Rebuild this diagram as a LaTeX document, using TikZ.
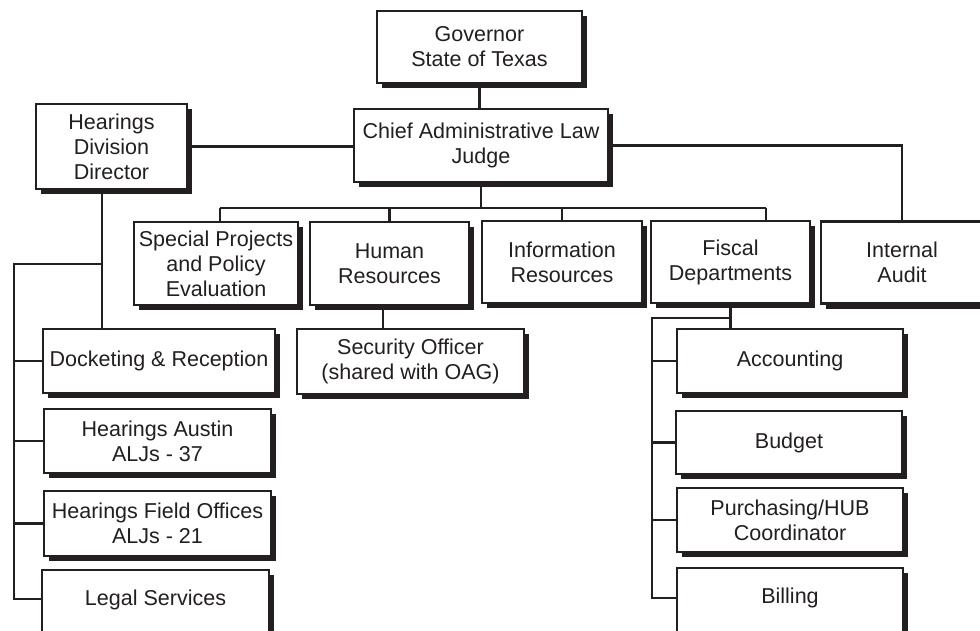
\documentclass[tikz,border=0pt]{standalone}
\usepackage{fontspec}
\setmainfont{Liberation Sans}
\usepackage{xcolor}
\usepackage{tikz}
\usetikzlibrary{shadows, positioning}

\definecolor{ink}{HTML}{231F20}

\begin{document}
\begin{tikzpicture}[x=0.025cm, y=-0.025cm,
        unit/.style={draw=ink, line width=1.6pt, fill=white, rectangle, align=center, text=ink,
            inner sep=1pt, font=\fontsize{15.3}{17.8}\selectfont,
            drop shadow={shadow xshift=0.12cm, shadow yshift=-0.13cm, opacity=1, fill=ink}},
        link/.style={draw=ink, line width=1.5pt}]
        \clip (0,0) rectangle (980,631);

        % Top
        \node[unit, minimum width=5.125cm, minimum height=1.8cm] (gov) at (479.5,47) {Governor\\State of Texas};
        \node[unit, minimum width=6.35cm, minimum height=1.825cm] (chief) at (481,145.5) {Chief Administrative Law\\Judge};
        \node[unit, minimum width=3.775cm, minimum height=2.125cm] (hdd) at (111.5,146.5) {Hearings\\Division\\Director};

        % Offices under the judge
        \node[unit, minimum width=4.1cm, minimum height=2.075cm] (spec) at (216,263.5) {Special Projects\\and Policy\\Evaluation};
        \node[unit, minimum width=3.975cm, minimum height=2.075cm] (hr) at (389.5,263.5) {Human\\Resources};
        \node[unit, minimum width=4cm, minimum height=2.05cm] (ir) at (562,262) {Information\\Resources};
        \node[unit, minimum width=3.975cm, minimum height=2.05cm] (fisc) at (730.5,262) {Fiscal\\Departments};
        \node[unit, minimum width=4.05cm, minimum height=2.05cm] (audit) at (902,262.5) {Internal\\Audit};
        \node[unit, minimum width=5.675cm, minimum height=1.625cm] (sec) at (410.5,361.5) {Security Officer\\(shared with OAG)};

        % Hearings division
        \node[unit, minimum width=5.8cm, minimum height=1.6cm] (dock) at (159,361) {Docketing \& Reception};
        \node[unit, minimum width=5.675cm, minimum height=1.6cm] (aus) at (157.5,441) {Hearings Austin\\ALJs - 37};
        \node[unit, minimum width=5.675cm, minimum height=1.625cm] (field) at (157.5,523.5) {Hearings Field Offices\\ALJs - 21};
        \node[unit, minimum width=5.675cm, minimum height=2.025cm, anchor=north] (legal) at (155.5,569) {Legal Services\\\mbox{}};

        % Fiscal units
        \node[unit, minimum width=5.65cm, minimum height=1.6cm] (acc) at (790,361) {Accounting};
        \node[unit, minimum width=5.65cm, minimum height=1.575cm] (bud) at (789,442.5) {Budget};
        \node[unit, minimum width=5.65cm, minimum height=1.6cm] (pur) at (790,520) {Purchasing/HUB\\Coordinator};
        \node[unit, minimum width=5.65cm, minimum height=2.025cm, anchor=north] (bill) at (790,567) {Billing\\\mbox{}};

        % Connectors
        \coordinate (bus) at (478,208);
        \coordinate (fdrop) at (766,208);
        \coordinate (hdtrunk) at (102,264);
        \coordinate (hdrail) at (14,264);
        \coordinate (frail) at (652,318);

        \draw[link] (gov.south) -- (gov.south |- chief.north);
        \draw[link] (hdd.east) -- (hdd.east -| chief.west);
        \draw[link] (chief.east) -| (audit.north);
        \draw[link] (chief.south |- bus) -- (chief.south);
        \draw[link] ([xshift=0.1cm]spec.north |- bus) -- (fdrop);
        \draw[link] ([xshift=0.1cm]spec.north |- bus) -- ([xshift=0.1cm]spec.north);
        \draw[link] (hr.north |- bus) -- (hr.north);
        \draw[link] (ir.north |- bus) -- (ir.north);
        \draw[link] (fdrop) -- (fdrop |- fisc.north);
        \draw[link] ([xshift=-0.16cm]hr.south) -- ([xshift=-0.16cm]hr.south |- sec.north);

        \draw[link] (hdtrunk |- hdd.south) -- (hdtrunk |- dock.north);
        \draw[link] (hdtrunk) -- (hdrail) |- ([yshift=-0.75cm]legal.north west);
        \draw[link] (hdrail |- dock.west) -- (dock.west);
        \draw[link] (hdrail |- aus.west) -- (aus.west);
        \draw[link] (hdrail |- field.west) -- (field.west);

        \draw[link] (fisc.south) -- (fisc.south |- acc.north);
        \draw[link] (fisc.south |- frail) -- (frail) |- ([yshift=-0.775cm]bill.north west);
        \draw[link] (frail |- acc.west) -- (acc.west);
        \draw[link] (frail |- bud.west) -- (bud.west);
        \draw[link] (frail |- pur.west) -- (pur.west);
    \end{tikzpicture}
\end{document}
